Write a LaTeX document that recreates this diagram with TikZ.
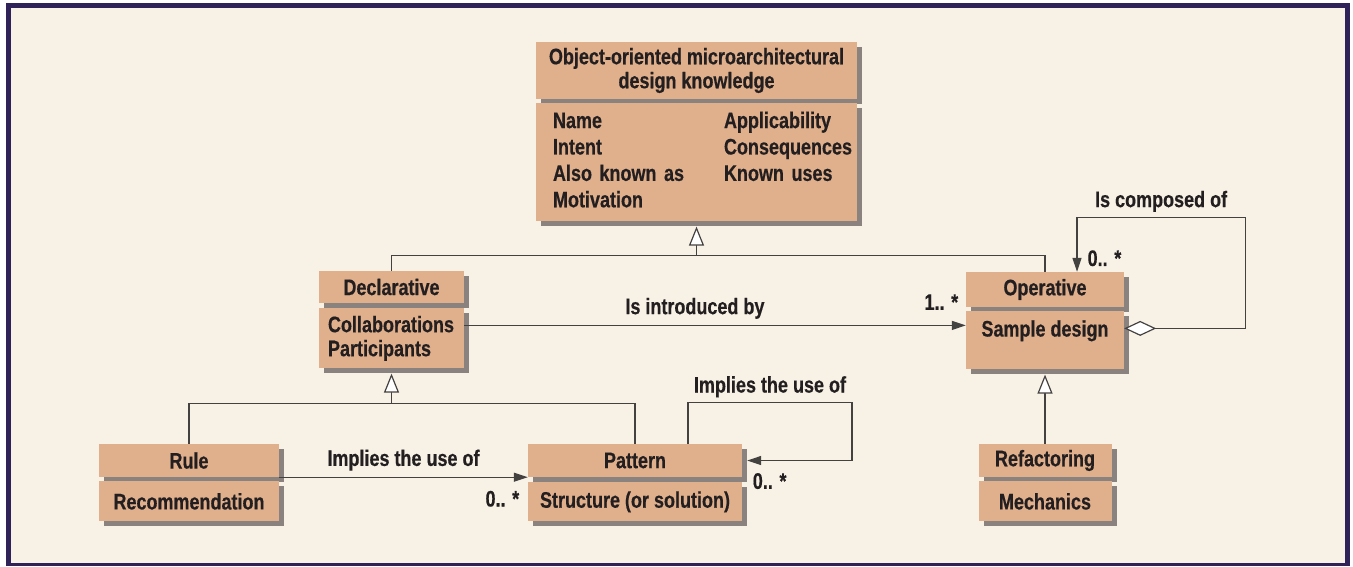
\documentclass[tikz,border=0pt]{standalone}
\usepackage{fontspec}
\setmainfont{Liberation Sans}[FakeStretch=0.8, FakeBold=0.4]
\usepackage{xcolor}
\usetikzlibrary{arrows.meta, positioning, shadows, calc}
\definecolor{boxfill}{HTML}{E0B08C}
\definecolor{boxshade}{HTML}{8A827E}
\definecolor{paper}{HTML}{F8F2E6}
\definecolor{frameblue}{HTML}{2E2259}
\definecolor{ink}{HTML}{231F20}
\tikzset{
  compart/.style={
    rectangle, fill=boxfill, text=ink,
    inner sep=0pt,
    font=\bfseries\fontsize{22.5}{24}\selectfont,
    drop shadow={shadow xshift=5pt, shadow yshift=-5pt,
      fill=boxshade, opacity=1}
  },
  lbl/.style={text=ink, inner sep=1pt, font=\bfseries\fontsize{22.5}{24}\selectfont},
  link/.style={draw=ink!85, line width=1.2pt},
  gen/.style={link, -{Triangle[fill=white, length=19pt, width=15pt]}},
  assoc/.style={link, -{Triangle[length=14pt, width=9pt]}},
  compose/.style={link, {Diamond[fill=white, length=32pt, width=15pt]}-{Triangle[length=14pt, width=9pt]}},
}

\begin{document}
\begin{tikzpicture}[x=1pt, y=-1pt, node distance=4pt]
  % Frame
  \useasboundingbox (0,0) rectangle (1353,566);
  \fill[frameblue] (6,3) rectangle (1350,566);
  \fill[paper] (11,8) rectangle (1345,563);

  % Classes
  \node[compart, minimum width=321pt, minimum height=57pt, align=center]
    (knowT) at (696.5,70.5) {Object-oriented microarchitectural\\design knowledge};
  \node[compart, minimum width=321pt, minimum height=118pt,
    text width=287pt, inner xsep=17pt, align=left, below=of knowT] (knowB)
    {\renewcommand{\arraystretch}{1.1}%
     \begin{tabular}{@{}p{171pt}@{}l@{}}
       Name & Applicability\\
       Intent & Consequences\\
       Also known as & Known uses\\
       Motivation &
     \end{tabular}};

  \node[compart, minimum width=145pt, minimum height=32pt]
    (declT) at (391.5,287) {Declarative};
  \node[compart, minimum width=145pt, minimum height=60pt,
    text width=127pt, inner xsep=9pt, align=left, below=5pt of declT]
    (declB) {Collaborations\\Participants};

  \node[compart, minimum width=158pt, minimum height=35pt]
    (operT) at (1045,289.5) {Operative};
  \node[compart, minimum width=158pt, minimum height=58pt, align=center,
    below=of operT] (operB) {Sample design\\\mbox{}};

  \node[compart, minimum width=180pt, minimum height=33pt]
    (ruleT) at (189,460.5) {Rule};
  \node[compart, minimum width=180pt, minimum height=40pt,
    below=of ruleT] (ruleB) {Recommendation};

  \node[compart, minimum width=214pt, minimum height=33pt]
    (pattT) at (635,460.5) {Pattern};
  \node[compart, minimum width=214pt, minimum height=39pt,
    below=5pt of pattT] (pattB) {Structure (or solution)};

  \node[compart, minimum width=133pt, minimum height=33pt]
    (refacT) at (1045,460.5) {Refactoring};
  \node[compart, minimum width=133pt, minimum height=40pt,
    below=of refacT] (refacB) {Mechanics};

  % Generalisations
  \coordinate (genTop) at ($(knowB.south)+(0,34)$);
  \draw[gen] (genTop) -- ([yshift=-5pt]knowB.south);
  \draw[link] (declT.north) |- (genTop) -| (operT.north);

  \coordinate (genDecl) at ($(declB.south)+(0,35)$);
  \draw[gen] (genDecl) -- ([yshift=-5pt]declB.south);
  \draw[link] (ruleT.north) |- (genDecl) -| (pattT.north);

  \draw[gen] (refacT.north) -- ([yshift=-5pt]operB.south);

  % Associations
  \draw[assoc] ([yshift=13pt]declB.east) coordinate (intro) -- (intro -| operB.west)
    node[lbl, pos=.46, above=5pt] {Is introduced by}
    node[lbl, pos=1, anchor=south east, xshift=-6pt, yshift=14pt] {1.. *};

  \draw[assoc] (ruleT.south east) -- (pattT.south west)
    node[lbl, midway, above=5pt] {Implies the use of}
    node[lbl, pos=1, anchor=north east, xshift=-7pt, yshift=-12pt] {0.. *};

  \draw[assoc] ([xshift=53pt]pattT.north)
    |- node[lbl, pos=.75, above=4pt] {Implies the use of} ++(164,-41)
    |- ([xshift=5pt]pattT.east)
    node[lbl, pos=1, anchor=north west, xshift=4pt, yshift=-11pt] {0.. *};

  \draw[compose] ([yshift=12pt]operB.east) -| ++(121,-111)
    -| node[lbl, pos=.25, above=4pt] {Is composed of} ([xshift=32pt]operT.north)
    node[lbl, pos=1, anchor=south west, xshift=9pt, yshift=4pt] {0.. *};
\end{tikzpicture}
\end{document}
